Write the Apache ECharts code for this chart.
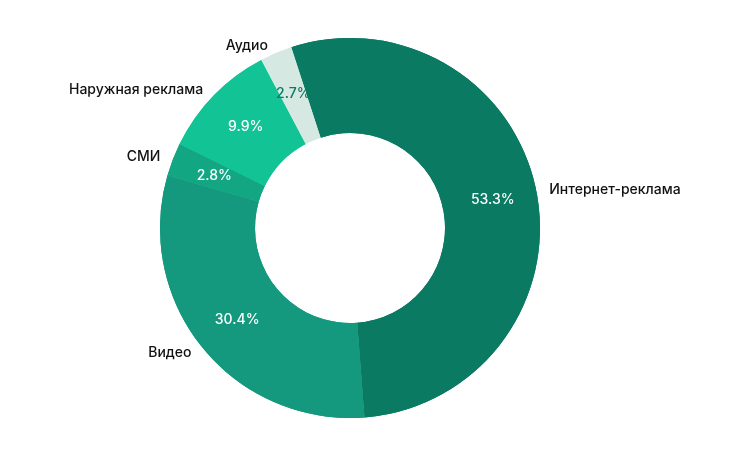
<!DOCTYPE html>
<html><head><meta charset="utf-8">
<script src="https://cdn.jsdelivr.net/npm/echarts@6/dist/echarts.min.js"></script>
<style>html,body{margin:0;background:#fff}#c{width:751px;height:450px}</style>
</head><body><div id="c"></div>
<script>
const categories = ["Интернет-реклама","Видео","СМИ","Наружная реклама","Аудио"];
const values = [53.3,30.4,2.8,9.9,2.7];
const colors = ["#0b7a62","#14997f","#12a683","#12c495","#d5e8e2"];
const insideColors = ["#fff","#fff","#fff","#fff","#0b7a62"];
const data = categories.map((n,i)=>({name:n,value:values[i],itemStyle:{color:colors[i]},
  label:{color:insideColors[i]}}));
const common = {type:'pie',center:[350,228],radius:[95,190],startAngle:108,clockwise:true,silent:true};
echarts.init(document.getElementById('c')).setOption({
  animation:false,
  series:[
    Object.assign({},common,{data:data.map(d=>({name:d.name,value:d.value,itemStyle:d.itemStyle})),
      label:{position:'outside',formatter:'{b}',color:'#111',fontSize:14,fontWeight:500,fontFamily:'Inter'},
      labelLine:{show:false,length:8,length2:0}}),
    Object.assign({},common,{data:data,
      label:{position:'inside',formatter:p=>p.value.toFixed(1)+'%',fontSize:14,fontWeight:500,fontFamily:'Inter'},
      labelLine:{show:false},itemStyle:{color:'transparent'}})
  ]
});
</script></body></html>
